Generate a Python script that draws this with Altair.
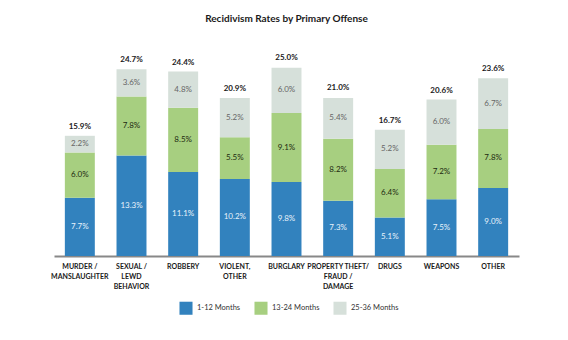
import altair as alt
import pandas as pd

categories = ["MURDER /|MANSLAUGHTER", "SEXUAL /|LEWD|BEHAVIOR", "ROBBERY", "VIOLENT,|OTHER",
              "BURGLARY", "PROPERTY THEFT/|FRAUD /|DAMAGE", "DRUGS", "WEAPONS", "OTHER"]
series = ["1-12 Months", "13-24 Months", "25-36 Months"]
m1_12 = [7.7, 13.3, 11.1, 10.2, 9.8, 7.3, 5.1, 7.5, 9.0]
m13_24 = [6.0, 7.8, 8.5, 5.5, 9.1, 8.2, 6.4, 7.2, 7.8]
m25_36 = [2.2, 3.6, 4.8, 5.2, 6.0, 5.4, 5.2, 6.0, 6.7]
totals = [15.9, 24.7, 24.4, 20.9, 25.0, 21.0, 16.7, 20.6, 23.6]
colors = ["#3282be", "#a7cf80", "#d6e0da"]
label_colors = ["#e8f2fb", "#1e2a10", "#666666"]

rows = []
for i, c in enumerate(categories):
    for k, vals in enumerate([m1_12, m13_24, m25_36]):
        rows.append({"cat": c, "series": series[k], "order": k, "value": vals[i],
                     "lab": f"{vals[i]:.1f}%", "lcolor": label_colors[k]})
df = pd.DataFrame(rows)
tot = pd.DataFrame({"cat": categories, "total": totals,
                    "lab": [f"{t:.1f}%" for t in totals]})

FONT = "Lato"
x = alt.X("cat:N", sort=categories, title=None,
          scale=alt.Scale(paddingInner=0.42, paddingOuter=0.21),
          axis=alt.Axis(labelExpr="split(datum.label, '|')", labelAngle=0,
                        labelFont=FONT, labelFontWeight="bold", labelFontSize=7,
                        labelColor="#1a1a1a", labelPadding=6, labelLineHeight=10,
                        ticks=False, grid=False, domain=True, domainColor="#888888",
                        domainWidth=2, labelBaseline="top", labelLimit=0))
yscale = alt.Scale(domain=[0, 25], nice=False, zero=True)

base = alt.Chart(df).transform_stack(
    stack="value", groupby=["cat"], as_=["y0", "y1"],
    sort=[alt.SortField("order", order="ascending")]
).transform_calculate(mid="(datum.y0 + datum.y1) / 2")

bars = base.mark_bar().encode(
    x=x,
    y=alt.Y("y0:Q", scale=yscale, axis=None),
    y2="y1:Q",
    color=alt.Color("series:N", sort=series,
                    scale=alt.Scale(domain=series, range=colors),
                    legend=alt.Legend(title=None, orient="none", legendX=125, legendY=234,
                                      direction="horizontal", columns=3,
                                      symbolType="square", symbolSize=170,
                                      symbolStrokeWidth=0, labelFont=FONT,
                                      labelFontSize=7.5, labelColor="#333333",
                                      labelOffset=4, columnPadding=13)),
)

seg_text = base.mark_text(font=FONT, fontSize=8, baseline="middle").encode(
    x=alt.X("cat:N", sort=categories),
    y=alt.Y("mid:Q", scale=yscale, axis=None),
    text="lab:N",
    color=alt.Color("lcolor:N", scale=None),
)

tot_text = alt.Chart(tot).mark_text(font=FONT, fontSize=8, fontWeight="bold",
                                    baseline="bottom", dy=-5, color="#1a1a1a").encode(
    x=alt.X("cat:N", sort=categories),
    y=alt.Y("total:Q", scale=yscale, axis=None),
    text="lab:N",
)

chart = alt.layer(bars, seg_text, tot_text).properties(
    width=465, height=189,
    background="white",
    title=alt.TitleParams("Recidivism Rates by Primary Offense", font=FONT, fontSize=10,
                          fontWeight="bold", color="#1a1a1a", anchor="middle", offset=30),
    autosize=alt.AutoSizeParams(type="none"),
    padding={"left": 54, "top": 67, "right": 49, "bottom": 84},
).configure_view(stroke="transparent", strokeWidth=0)

chart.save("out.html", embed_options={"renderer": "svg", "actions": False})
